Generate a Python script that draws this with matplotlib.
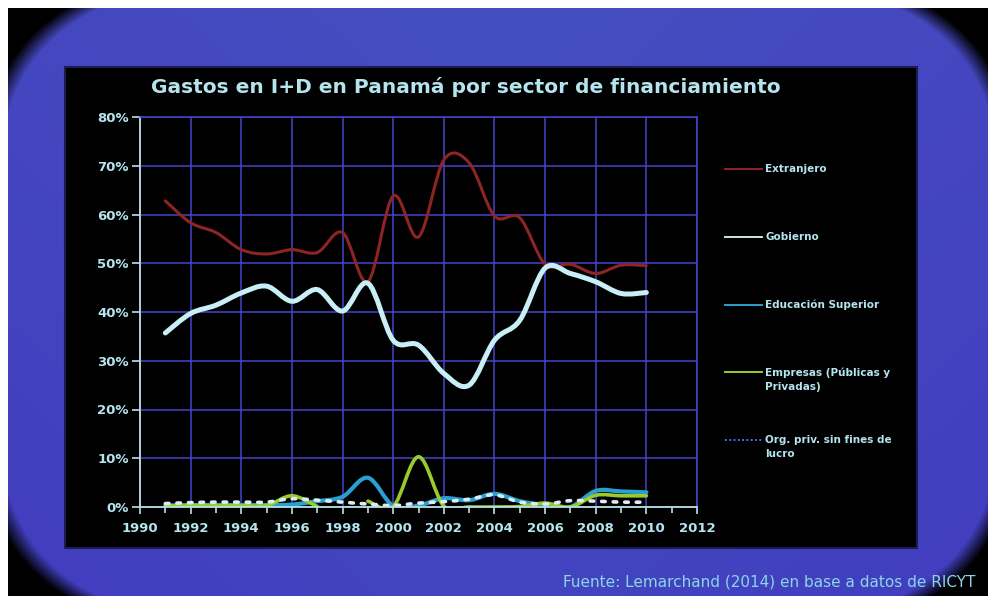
import numpy as np
import matplotlib
matplotlib.use('Agg')
import matplotlib.pyplot as plt
from matplotlib.path import Path
from matplotlib.patches import PathPatch, Rectangle
from matplotlib.lines import Line2D
from matplotlib.ticker import MultipleLocator, FuncFormatter

# =================================================================================
# Gastos en I+D en Panamá por sector de financiamiento (1991-2010)
# =================================================================================

years = [1991, 1992, 1993, 1994, 1995, 1996, 1997, 1998, 1999, 2000,
         2001, 2002, 2003, 2004, 2005, 2006, 2007, 2008, 2009, 2010]

extranjero = [62.8, 58.3, 56.3, 52.8, 51.9, 52.8, 52.2, 56.3, 46.2, 63.8,
              55.4, 71.2, 70.6, 59.7, 59.3, 49.8, 49.8, 47.9, 49.6, 49.5]
gobierno = [35.7, 39.7, 41.4, 43.9, 45.3, 42.2, 44.6, 40.2, 45.9, 34.2,
            33.2, 27.4, 25.0, 34.2, 38.3, 49.0, 47.9, 46.2, 43.8, 44.0]
educacion = [0.3, 0.4, 0.4, 0.4, 0.4, 0.5, 1.2, 2.1, 6.0, 0.2,
             0.3, 1.8, 1.4, 2.7, 1.2, 0.4, 0.0, 3.3, 3.2, 3.0]
empresas = [0.2, 0.3, 0.3, 0.3, 0.3, 2.3, 0.1, np.nan, 1.2, 0.1,
            10.3, 0.2, 0.0, 0.0, 0.1, 0.8, 0.0, 2.4, 2.3, 2.3]
org_priv = [0.7, 0.9, 1.0, 1.0, 1.0, 1.7, 1.4, 1.0, 0.6, 0.3,
            0.8, 1.1, 1.6, 2.5, 1.0, 0.6, 1.3, 1.2, 1.0, 1.0]

labels = ['Extranjero', 'Gobierno', 'Educación Superior',
          'Empresas (Públicas y\nPrivadas)', 'Org. priv. sin fines de\nlucro']

txt_col = '#b4e4ee'
grid_col = '#4444cc'


def smooth_segments(x, y):
    # excel-style smoothed line: cubic bezier through the points, split on gaps
    x = np.asarray(x, float)
    y = np.asarray(y, float)
    ok = ~np.isnan(y)
    verts, codes = [], []
    i = 0
    n = len(x)
    while i < n:
        if not ok[i]:
            i += 1
            continue
        j = i
        while j + 1 < n and ok[j + 1]:
            j += 1
        xs, ys = x[i:j + 1], y[i:j + 1]
        m = len(xs)
        verts.append((xs[0], ys[0]))
        codes.append(Path.MOVETO)
        for k in range(m - 1):
            a = k - 1 if k > 0 else k
            b = k + 2 if k + 2 < m else k + 1
            c1 = (xs[k] + (xs[k + 1] - xs[a]) / 6, ys[k] + (ys[k + 1] - ys[a]) / 6)
            c2 = (xs[k + 1] - (xs[b] - xs[k]) / 6, ys[k + 1] - (ys[b] - ys[k]) / 6)
            verts += [c1, c2, (xs[k + 1], ys[k + 1])]
            codes += [Path.CURVE4] * 3
        i = j + 1
    return Path(verts, codes)


fig = plt.figure(figsize=(9.88, 5.96), dpi=100, facecolor='white')

# background: blue slide with dark vignette corners
H, W = 596, 988
yy, xx = np.mgrid[0:H, 0:W]
d = (np.abs((xx - 498) / 522.0) ** 4 + np.abs((yy - 302) / 345.0) ** 4) ** 0.25
mask = np.clip((1.0 - d) / 0.035, 0, 1)
base = np.zeros((H, W, 3))
base[..., 0] = 0.27 - 0.01 * (yy / H)
base[..., 1] = 0.31 - 0.04 * (yy / H) - 0.03 * np.abs(xx - 498) / 498
base[..., 2] = 0.75
img = base * mask[..., None]
img[:8, :, :] = 1.0
img[:, :8, :] = 1.0
bg = fig.add_axes([0, 0, 1, 1], zorder=-10)
bg.imshow(img, extent=(0, W, H, 0), aspect='auto', interpolation='nearest')
bg.set_xlim(0, W)
bg.set_ylim(H, 0)
bg.axis('off')

# black chart panel
fig.patches.append(Rectangle((65 / W, 1 - 548 / H), (917 - 65) / W, (548 - 67) / H,
                             transform=fig.transFigure, facecolor='black',
                             edgecolor='#1c1c55', linewidth=1.5, zorder=-5))

ax = fig.add_axes([140 / W, 1 - 507 / H, (697 - 140) / W, (507 - 117) / H], zorder=1)
ax.set_facecolor('black')

styles = [
    dict(color='#8e2424', lw=2.2, ls='-'),
    dict(color='#c8eef6', lw=3.6, ls='-'),
    dict(color='#2a9fd2', lw=3.0, ls='-'),
    dict(color='#9acb2e', lw=2.6, ls='-'),
    dict(color='#dcecf2', lw=2.6, ls=(0, (1, 2.2))),
]
series = [extranjero, gobierno, educacion, empresas, org_priv]

for vals, st in zip(series, styles):
    p = smooth_segments(years, vals)
    ax.add_patch(PathPatch(p, facecolor='none', edgecolor=st['color'],
                           linewidth=st['lw'], linestyle=st['ls'],
                           capstyle='round', joinstyle='round'))

ax.set_xlim(1990, 2012)
ax.set_ylim(0, 80)
ax.xaxis.set_major_locator(MultipleLocator(2))
ax.xaxis.set_minor_locator(MultipleLocator(1))
ax.yaxis.set_major_locator(MultipleLocator(10))
ax.yaxis.set_major_formatter(FuncFormatter(lambda v, _: f'{int(v)}%'))
ax.grid(True, which='major', color=grid_col, lw=1.1)
ax.set_axisbelow(True)

for s in ['top', 'right']:
    ax.spines[s].set_color(grid_col)
    ax.spines[s].set_linewidth(1.1)
for s in ['left', 'bottom']:
    ax.spines[s].set_color('#b8e2e2')
    ax.spines[s].set_linewidth(1.3)

ax.tick_params(axis='both', which='both', direction='out', colors='#b8e2e2',
               labelcolor=txt_col, width=1.2)
ax.tick_params(axis='y', which='major', length=6, labelsize=9.5, pad=2)
ax.tick_params(axis='x', which='major', length=5, labelsize=9.5, pad=6)
ax.tick_params(axis='x', which='minor', length=4)
for t in ax.get_xticklabels() + ax.get_yticklabels():
    t.set_fontweight('bold')

fig.text(466 / W, 1 - 87 / H, 'Gastos en I+D en Panamá por sector de financiamiento',
         ha='center', va='center', color=txt_col, fontsize=14.5, fontweight='bold')

# legend, Excel style: entries at fixed steps, key beside the first text line
key_cols = ['#8e2424', '#c8e8e8', '#2a9fd2', '#9acb2e', '#4a6cff']
key_ls = ['-', '-', '-', '-', (0, (1, 1.2))]
for i, (lab, kc, kls) in enumerate(zip(labels, key_cols, key_ls)):
    top = 164 + 67.8 * i
    fig.add_artist(Line2D([725 / W, 762 / W], [1 - (top + 5) / H] * 2,
                          transform=fig.transFigure, color=kc, lw=1.4, ls=kls))
    fig.text(765 / W, 1 - top / H, lab, ha='left', va='top', color=txt_col,
             fontsize=7.5, fontweight='bold', linespacing=1.45)

fig.text(975 / W, 1 - 582 / H, 'Fuente: Lemarchand (2014) en base a datos de RICYT',
         ha='right', va='center', color='#8ad6e6', fontsize=11)

fig.savefig('out.png', dpi=100, facecolor=fig.get_facecolor())
